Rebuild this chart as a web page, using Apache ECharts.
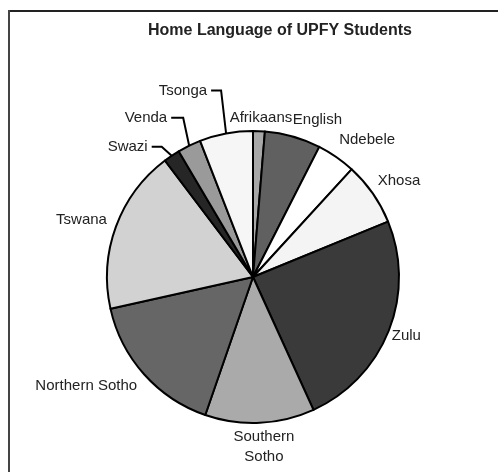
<!DOCTYPE html>
<html>
<head>
<meta charset="utf-8">
<script src="https://cdn.jsdelivr.net/npm/echarts@6/dist/echarts.min.js"></script>
<style>
html,body{margin:0;padding:0;background:#fff;}
#c{width:498px;height:472px;}
</style>
</head>
<body>
<div id="c"></div>
<script>
// ---- data ----
var categories = ['Afrikaans','English','Ndebele','Xhosa','Zulu','Southern\nSotho','Northern Sotho','Tswana','Swazi','Venda','Tsonga'];
var values = [1.3, 6.2, 4.3, 7.0, 24.4, 12.1, 16.2, 18.2, 1.8, 2.6, 5.9];
var colors = ['#a8a8a8','#606060','#ffffff','#f4f4f4','#3a3a3a','#aaaaaa','#666666','#d2d2d2','#262626','#9a9a9a','#f6f6f6'];

// ---- layout / style ----
var CX = 253, CY = 277, R = 146;
// label placement relative to slice's outer mid-point: [dx, dy, align]
var labelOffset = [
  [2, -13, 'center'],
  [0, -17, 'left'],
  [3, -17, 'left'],
  [5, -13, 'left'],
  [3, 5, 'left'],
  [4, 24, 'center'],
  [-7, 12, 'right'],
  [-9, -7, 'right'],
  [-24, -9, 'right'],
  [-22, -28, 'right'],
  [-19, -43, 'right']
];
// leader lines: index -> horizontal shift of elbow from arc point
var leader = {8: -10, 9: -6, 10: -5};

var total = values.reduce(function(a,b){return a+b;},0);
function midAngle(i){
  var s = 0;
  for (var k=0;k<i;k++) s += values[k];
  return (s + values[i]/2) / total * 2 * Math.PI;
}

var chart = echarts.init(document.getElementById('c'), null, {renderer:'canvas'});
var data = categories.map(function(n,i){
  return {
    name: n, value: values[i],
    itemStyle: {color: colors[i]},
    labelLine: {show: leader.hasOwnProperty(i)}
  };
});

chart.setOption({
  animation: false,
  backgroundColor: '#fff',
  graphic: [
    {type:'line', shape:{x1:8, y1:11, x2:498, y2:11}, style:{stroke:'#222', lineWidth:2}},
    {type:'line', shape:{x1:9, y1:10, x2:9, y2:472}, style:{stroke:'#444', lineWidth:2}},
    {type:'text', x:280, y:31, style:{text:'Home Language of UPFY Students', align:'center', verticalAlign:'middle',
      font:'bold 16px "Liberation Sans", Arial, sans-serif', fill:'#222'}}
  ],
  series: [{
    type: 'pie',
    center: [CX, CY],
    radius: R,
    startAngle: 90,
    clockwise: true,
    avoidLabelOverlap: false,
    itemStyle: {borderColor: '#000', borderWidth: 2},
    label: {
      show: true, position: 'outside',
      fontFamily: 'Liberation Sans, Arial, sans-serif', fontSize: 15, color: '#222',
      lineHeight: 20
    },
    labelLine: {lineStyle: {color: '#000', width: 2}, length: 10, length2: 10},
    labelLayout: function(p){
      var i = p.dataIndex;
      var a = midAngle(i);
      var ax = CX + R*Math.sin(a), ay = CY - R*Math.cos(a);
      var o = labelOffset[i];
      var lx = ax + o[0], ly = ay + o[1];
      var res = {x: lx, y: ly, align: o[2], verticalAlign: 'middle'};
      if (leader.hasOwnProperty(i)) {
        res.labelLinePoints = [[ax, ay], [ax + leader[i], ly], [lx + 4, ly]];
      }
      return res;
    },
    data: data
  }]
});
</script>
</body>
</html>
